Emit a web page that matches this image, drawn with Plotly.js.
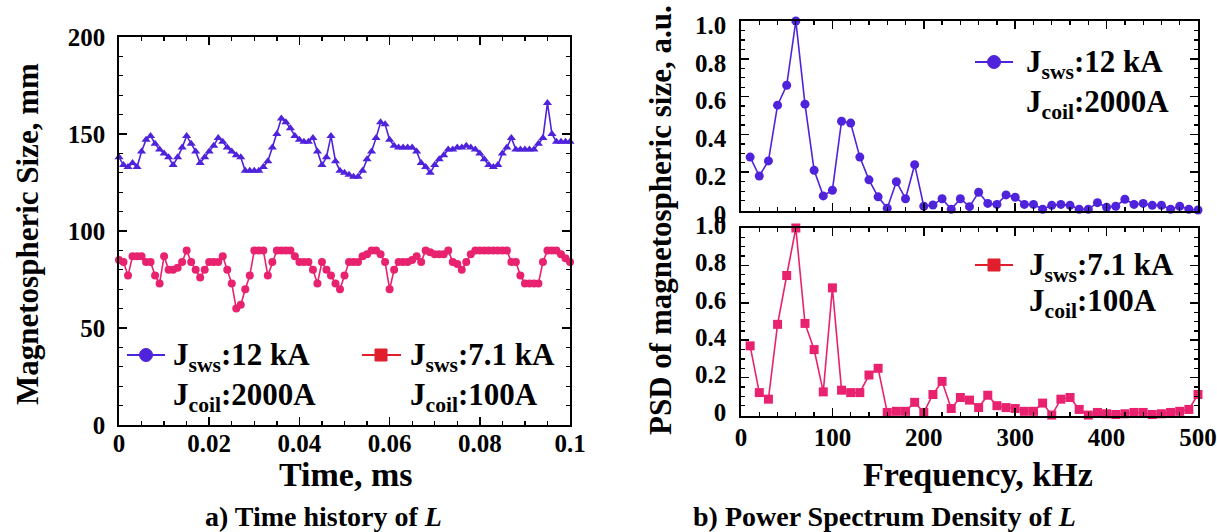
<!DOCTYPE html>
<html><head><meta charset="utf-8">
<script src="https://cdn.plot.ly/plotly-3.0.1.min.js"></script>
<style>html,body{margin:0;padding:0;background:#fff}</style></head>
<body><div id="chart" style="width:1217px;height:532px"></div>
<script>
// ---- data ----
const time = [0,0.001,0.002,0.003,0.004,0.005,0.006,0.007,0.008,0.009,
0.010,0.011,0.012,0.013,0.014,0.015,0.016,0.017,0.018,0.019,
0.020,0.021,0.022,0.023,0.024,0.025,0.026,0.027,0.028,0.029,
0.030,0.031,0.032,0.033,0.034,0.035,0.036,0.037,0.038,0.039,
0.040,0.041,0.042,0.043,0.044,0.045,0.046,0.047,0.048,0.049,
0.050,0.051,0.052,0.053,0.054,0.055,0.056,0.057,0.058,0.059,
0.060,0.061,0.062,0.063,0.064,0.065,0.066,0.067,0.068,0.069,
0.070,0.071,0.072,0.073,0.074,0.075,0.076,0.077,0.078,0.079,
0.080,0.081,0.082,0.083,0.084,0.085,0.086,0.087,0.088,0.089,
0.090,0.091,0.092,0.093,0.094,0.095,0.096,0.097,0.098,0.099,0.100];
const sizeSws12 = [138,134,133,135,133,141,147,149,145,142,
140,138,134,138,143,149,145,141,135,138,
141,144,148,146,143,141,139,138,131,131,
131,131,133,136,143,150,158,156,153,149,
147,146,146,148,141,134,138,149,136,131,
130,129,128,128,131,137,141,148,156,155,
147,144,143,143,143,143,141,135,133,130,
134,137,139,142,142,143,143,144,143,142,
140,137,134,133,134,140,143,148,142,142,
142,142,142,145,148,166,150,146,146,146,146];
const sizeSws71 = [85,84,77,87,87,87,84,84,77,73,
87,80,80,81,84,90,84,80,76,80,
84,84,84,87,80,73,60,62,70,77,
90,90,90,77,84,90,90,90,90,87,
84,84,84,80,73,84,80,77,73,70,
77,84,84,84,87,88,90,90,88,84,
70,80,84,84,84,85,87,84,90,89,
88,88,88,90,84,83,80,84,88,90,
90,90,90,90,90,90,90,84,84,77,
73,73,73,73,84,90,90,90,88,86,84];
const freq = [10,20,30,40,50,60,70,80,90,100,
110,120,130,140,150,160,170,180,190,200,
210,220,230,240,250,260,270,280,290,300,
310,320,330,340,350,360,370,380,390,400,
410,420,430,440,450,460,470,480,490,500];
const psdSws12 = [0.28,0.18,0.26,0.555,0.66,1.0,0.56,0.21,0.075,0.105,
0.47,0.46,0.28,0.16,0.07,0.01,0.15,0.06,0.24,0.02,
0.027,0.06,0.004,0.06,0.018,0.094,0.035,0.03,0.08,0.068,
0.03,0.03,0.004,0.025,0.03,0.025,0.004,0.004,0.039,0.015,
0.02,0.057,0.03,0.035,0.025,0.025,0.004,0.02,0.004,0.0];
const psdSws71 = [0.37,0.12,0.085,0.485,0.746,1.0,0.49,0.35,0.124,0.68,
0.133,0.12,0.12,0.214,0.25,0.014,0.02,0.02,0.068,0.014,
0.11,0.18,0.035,0.094,0.08,0.04,0.106,0.05,0.04,0.035,
0.02,0.02,0.064,0.0,0.085,0.094,0.03,0.0,0.014,0.007,
0.003,0.007,0.014,0.014,0.003,0.007,0.014,0.02,0.03,0.11];
const psdTicks = [0,0.2,0.4,0.6,0.8,1.0];
const psdTickText = ['0','0.2','0.4','0.6','0.8','1.0'];

// ---- style ----
const W = 1217, H = 532;
const px = x => x / W, py = y => 1 - y / H;
const BLUE = '#4f22dc', PINK = '#e8226e', RED = '#e01e2c';
const SERIF = 'Liberation Serif, Times New Roman, serif';
const tickFont = {family: SERIF, size: 25, color: '#000', weight: 'bold'};

function minorTicks(d) {
  return {ticks: 'inside', ticklen: 4, tickwidth: 1.3, tickcolor: '#000', dtick: d, tick0: 0, showgrid: false};
}
function axis(extra) {
  return Object.assign({
    showline: true, linecolor: '#000', linewidth: 1.8, mirror: 'allticks',
    ticks: 'inside', ticklen: 8, tickwidth: 1.6, tickcolor: '#000',
    showgrid: false, zeroline: false, tickfont: tickFont, ticklabelstandoff: 3
  }, extra);
}

const traces = [
  {x: time, y: sizeSws12, type: 'scatter', mode: 'lines+markers', xaxis: 'x', yaxis: 'y',
   line: {color: BLUE, width: 1.6}, marker: {symbol: 'triangle-up', size: 8, color: BLUE}, cliponaxis: false},
  {x: time, y: sizeSws71, type: 'scatter', mode: 'lines+markers', xaxis: 'x', yaxis: 'y',
   line: {color: PINK, width: 1.6}, marker: {symbol: 'circle', size: 8, color: PINK}, cliponaxis: false},
  {x: freq, y: psdSws12, type: 'scatter', mode: 'lines+markers', xaxis: 'x2', yaxis: 'y2',
   line: {color: BLUE, width: 1.6}, marker: {symbol: 'circle', size: 9, color: BLUE}, cliponaxis: false},
  {x: freq, y: psdSws71, type: 'scatter', mode: 'lines+markers', xaxis: 'x3', yaxis: 'y3',
   line: {color: PINK, width: 1.6}, marker: {symbol: 'square', size: 9, color: PINK}, cliponaxis: false}
];

function ann(text, x, y, size, opts) {
  return Object.assign({text: text, x: px(x), y: py(y), xref: 'paper', yref: 'paper',
    showarrow: false, xanchor: 'center', yanchor: 'middle',
    font: {family: SERIF, size: size, color: '#000', weight: 'bold'}}, opts || {});
}

const annotations = [
  ann('Magnetospheric Size, mm', 27, 234, 31, {textangle: -90}),
  ann('Time, ms', 345, 474, 34),
  ann('a) Time history of <i>L</i>', 323, 516, 28),
  ann('PSD of magnetospheric size, a.u.', 661, 220, 31, {textangle: -90}),
  ann('Frequency, kHz', 978, 474, 34),
  ann('b) Power Spectrum Density of <i>L</i>', 884, 516, 28),
  ann('J<sub>sws</sub>:12 kA', 171, 357, 31, {xanchor: 'left'}),
  ann('J<sub>coil</sub>:2000A', 171, 397, 31, {xanchor: 'left'}),
  ann('J<sub>sws</sub>:7.1 kA', 408, 357, 31, {xanchor: 'left'}),
  ann('J<sub>coil</sub>:100A', 408, 397, 31, {xanchor: 'left'}),
  ann('J<sub>sws</sub>:12 kA', 1024, 64, 31, {xanchor: 'left'}),
  ann('J<sub>coil</sub>:2000A', 1024, 104, 31, {xanchor: 'left'}),
  ann('J<sub>sws</sub>:7.1 kA', 1027, 267, 31, {xanchor: 'left'}),
  ann('J<sub>coil</sub>:100A', 1027, 303, 31, {xanchor: 'left'})
];

function legLine(x0, x1, y, color) {
  return {type: 'line', xref: 'paper', yref: 'paper', x0: px(x0), x1: px(x1), y0: py(y), y1: py(y),
    line: {color: color, width: 2}};
}
function legMark(kind, x, y, r, color) {
  return {type: kind, xref: 'paper', yref: 'paper', xsizemode: 'pixel', ysizemode: 'pixel',
    xanchor: px(x), yanchor: py(y), x0: -r, x1: r, y0: -r, y1: r,
    fillcolor: color, line: {color: color, width: 1}};
}
const shapes = [
  legLine(127, 165, 355, BLUE), legMark('circle', 146, 355, 6.5, BLUE),
  legLine(362, 401, 355, RED), legMark('rect', 381, 355, 6, RED),
  legLine(975, 1013, 62, BLUE), legMark('circle', 994, 62, 6.5, BLUE),
  legLine(975, 1013, 265, RED), legMark('rect', 994, 265, 6, RED)
];

const layout = {
  width: W, height: H, margin: {l: 0, r: 0, t: 0, b: 0},
  paper_bgcolor: '#fff', plot_bgcolor: '#fff', showlegend: false,
  xaxis: axis({domain: [px(119), px(570)], range: [0, 0.1], dtick: 0.02, anchor: 'y', ticklabelstandoff: -5, minor: minorTicks(0.005)}),
  yaxis: axis({domain: [py(425), py(37)], range: [0, 200], dtick: 50, anchor: 'x', ticklabelstandoff: 7, minor: minorTicks(10)}),
  xaxis2: axis({domain: [px(741), px(1198)], range: [0, 500], dtick: 100, anchor: 'y2', showticklabels: false, minor: minorTicks(20)}),
  yaxis2: axis({domain: [py(211), py(21)], range: [-0.005, 1.0], tickvals: psdTicks, ticktext: psdTickText,
    anchor: 'x2', ticklabelstandoff: 8, ticklabelshift: 4, minor: minorTicks(0.05)}),
  xaxis3: axis({domain: [px(741), px(1198)], range: [0, 500], dtick: 100, anchor: 'y3', ticklabelstandoff: -2, minor: minorTicks(20)}),
  yaxis3: axis({domain: [py(416), py(228)], range: [-0.005, 1.0], tickvals: psdTicks, ticktext: psdTickText,
    anchor: 'x3', ticklabelstandoff: 8, ticklabelshift: -3, minor: minorTicks(0.05)}),
  annotations: annotations,
  shapes: shapes
};

Plotly.newPlot('chart', traces, layout, {staticPlot: true, displayModeBar: false});
</script>
</body></html>
